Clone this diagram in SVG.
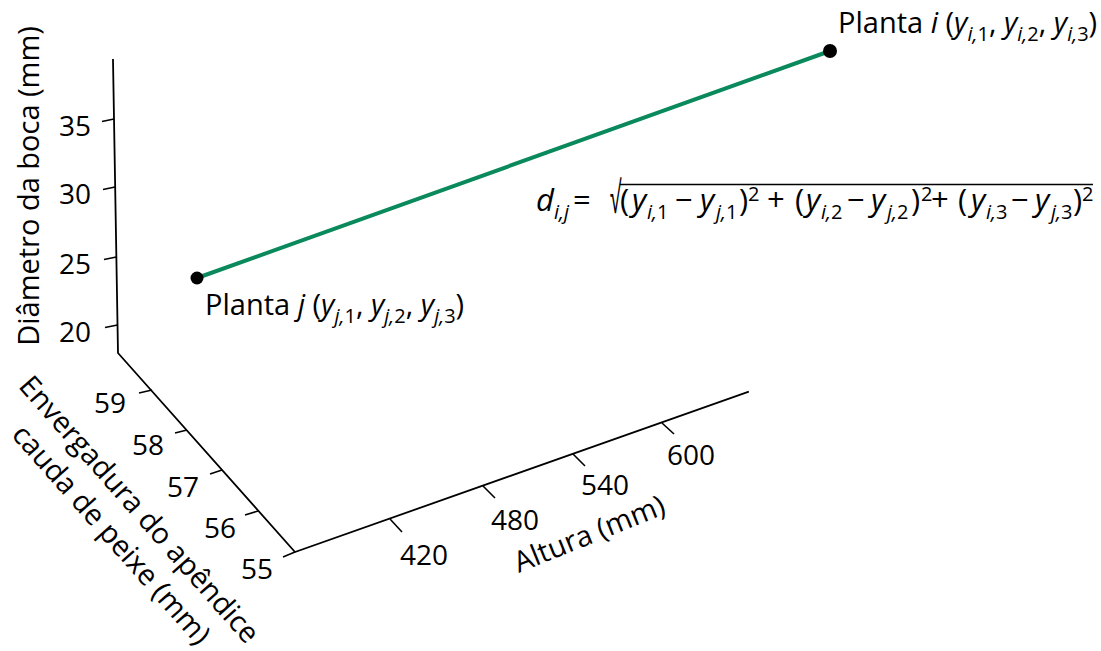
<svg xmlns="http://www.w3.org/2000/svg" width="1101" height="651" viewBox="0 0 1101 651">
<style>
text{font-family:"Open Sans","Noto Sans",sans-serif;font-size:28px;fill:#000}
.ax{stroke:#000;stroke-width:1.8;fill:none;stroke-linecap:square}
.tk{stroke:#000;stroke-width:1.6;fill:none}
.it{font-style:italic}
.sub{font-size:20px;font-style:italic}
.sup{font-size:20px}
.ttl{font-size:29px}
.fm{font-size:31px}
</style>
<rect width="1101" height="651" fill="#fff"/>
<g id="axes">
<polyline class="ax" points="113,60 118,353 295,552 748,392"/>
<g id="y-ticks">
<line class="tk" x1="113.9" y1="119" x2="102" y2="121.5"/>
<line class="tk" x1="115" y1="187" x2="103" y2="189.5"/>
<line class="tk" x1="116.3" y1="257" x2="104" y2="259.5"/>
<line class="tk" x1="117.5" y1="325" x2="105" y2="327.5"/>
</g>
<g id="z-ticks">
<line class="tk" x1="152" y1="390" x2="139" y2="393"/>
<line class="tk" x1="187" y1="430" x2="175" y2="433"/>
<line class="tk" x1="222" y1="470" x2="210" y2="474"/>
<line class="tk" x1="258" y1="511" x2="245" y2="515"/>
<line class="tk" x1="295" y1="552" x2="283" y2="557"/>
</g>
<g id="x-ticks">
<line class="tk" x1="390" y1="519" x2="402" y2="532"/>
<line class="tk" x1="483" y1="486" x2="495" y2="498"/>
<line class="tk" x1="573" y1="454" x2="585" y2="466"/>
<line class="tk" x1="662" y1="423" x2="674" y2="434"/>
</g>
</g>
<g id="y-labels" text-anchor="end">
<text x="91" y="136">35</text>
<text x="91" y="204">30</text>
<text x="91" y="274">25</text>
<text x="91" y="342">20</text>
</g>
<g id="z-labels" text-anchor="end">
<text x="126" y="413">59</text>
<text x="164" y="455">58</text>
<text x="199" y="497">57</text>
<text x="236" y="538">56</text>
<text x="273" y="579">55</text>
</g>
<g id="x-labels" text-anchor="middle">
<text x="424" y="565">420</text>
<text x="515" y="530">480</text>
<text x="605" y="495">540</text>
<text x="691" y="465">600</text>
</g>
<g id="axis-titles" text-anchor="middle" class="ttl">
<text class="ttl" transform="translate(39,186) rotate(-90)">Diâmetro da boca (mm)</text>
<text class="ttl" transform="translate(132,516) rotate(48.5)">Envergadura do apêndice</text>
<text class="ttl" transform="translate(104,541) rotate(48.5)">cauda de peixe (mm)</text>
<text class="ttl" transform="translate(593,543) rotate(-22)">Altura (mm)</text>
</g>
<g id="connectors">
<line x1="197" y1="278" x2="830" y2="51" stroke="#0a8a5c" stroke-width="4"/>
</g>
<g id="plant-j">
<circle cx="197" cy="278" r="6.5" fill="#000"/>
<text x="205" y="315" class="ttl">Planta <tspan class="it">j</tspan> (<tspan class="it">y</tspan><tspan class="sub" dy="8">j,</tspan><tspan font-size="20" >1</tspan><tspan dy="-8">, </tspan><tspan class="it">y</tspan><tspan class="sub" dy="8">j,</tspan><tspan font-size="20">2</tspan><tspan dy="-8">, </tspan><tspan class="it">y</tspan><tspan class="sub" dy="8">j,</tspan><tspan font-size="20">3</tspan><tspan dy="-8">)</tspan></text>
</g>
<g id="plant-i">
<circle cx="830" cy="51" r="7" fill="#000"/>
<text x="838" y="33" class="ttl">Planta <tspan class="it">i</tspan> (<tspan class="it">y</tspan><tspan class="sub" dy="8">i,</tspan><tspan font-size="20">1</tspan><tspan dy="-8">, </tspan><tspan class="it">y</tspan><tspan class="sub" dy="8">i,</tspan><tspan font-size="20">2</tspan><tspan dy="-8">, </tspan><tspan class="it">y</tspan><tspan class="sub" dy="8">i,</tspan><tspan font-size="20">3</tspan><tspan dy="-8">)</tspan></text>
</g>
<g id="formula">
<text class="fm" y="211"><tspan x="536" class="it">d</tspan><tspan class="sub" x="554" dy="8">i,j</tspan><tspan x="573" dy="-8">=</tspan><tspan x="620">(</tspan><tspan x="632" class="it">y</tspan><tspan class="sub" x="647" dy="8">i,</tspan><tspan font-size="20">1</tspan><tspan x="675" dy="-8">−</tspan><tspan x="700" class="it">y</tspan><tspan class="sub" x="716" dy="8">j,</tspan><tspan font-size="20">1</tspan><tspan x="739" dy="-8">)</tspan><tspan x="748" font-size="20" dy="-10">2</tspan><tspan x="767" dy="10">+</tspan><tspan x="795">(</tspan><tspan x="806" class="it">y</tspan><tspan class="sub" x="821" dy="8">i,</tspan><tspan font-size="20">2</tspan><tspan x="847" dy="-8">−</tspan><tspan x="871" class="it">y</tspan><tspan class="sub" x="887" dy="8">j,</tspan><tspan font-size="20">2</tspan><tspan x="911" dy="-8">)</tspan><tspan x="921" font-size="20" dy="-10">2</tspan><tspan x="931" dy="10">+</tspan><tspan x="958">(</tspan><tspan x="971" class="it">y</tspan><tspan class="sub" x="986" dy="8">i,</tspan><tspan font-size="20">3</tspan><tspan x="1011" dy="-8">−</tspan><tspan x="1035" class="it">y</tspan><tspan class="sub" x="1051" dy="8">j,</tspan><tspan font-size="20">3</tspan><tspan x="1073" dy="-8">)</tspan><tspan x="1082" font-size="20" dy="-10">2</tspan></text>
<text transform="translate(610,213) scale(0.7,1.55)" font-family="Liberation Sans" font-size="26">√</text>
<line x1="620" y1="184.5" x2="1093" y2="184.5" stroke="#000" stroke-width="1.5"/>
</g>
</svg>
